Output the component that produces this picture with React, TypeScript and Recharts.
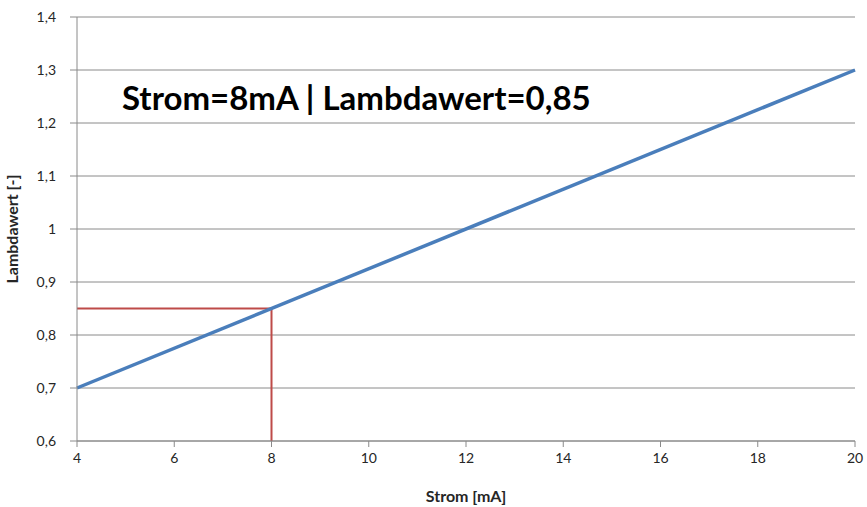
import { LineChart, Line, XAxis, YAxis, CartesianGrid } from 'recharts';

const stromTicks = [4, 6, 8, 10, 12, 14, 16, 18, 20];
const lambdaTicks = [0.6, 0.7, 0.8, 0.9, 1, 1.1, 1.2, 1.3, 1.4];

// Kennlinie: Strom [mA] -> Lambdawert
const kennlinie = [
  { strom: 4, lambda: 0.7 },
  { strom: 20, lambda: 1.3 },
];

// Ablesehilfe bei 8 mA
const ablesung = [
  { strom: 4, lambda: 0.85 },
  { strom: 8, lambda: 0.85 },
  { strom: 8, lambda: 0.6 },
];

const annotation = 'Strom=8mA | Lambdawert=0,85';

const fmt = (v: number) => String(v).replace('.', ',');

const tickStyle = { fill: '#262626', fontSize: 14, fontFamily: 'Lato, sans-serif' };
const labelStyle = { fill: '#262626', fontSize: 16, fontWeight: 700, fontFamily: 'Lato, sans-serif' };

export default function App() {
  return (
    <div style={{ position: 'absolute', left: 0, top: 0, width: 867, height: 507, background: '#fff' }}>
      <LineChart width={867} height={507} margin={{ top: 17, right: 12, bottom: 0, left: 0 }}>
        <CartesianGrid vertical={false} stroke="#8a8a8a" strokeWidth={1} />
        <XAxis
          type="number"
          dataKey="strom"
          domain={[4, 20]}
          ticks={stromTicks}
          height={66}
          stroke="#8a8a8a"
          tickSize={6}
          tickMargin={6}
          tick={tickStyle}
          label={{ value: 'Strom [mA]', position: 'insideBottom', offset: 5, style: labelStyle }}
        />
        <YAxis
          type="number"
          dataKey="lambda"
          domain={[0.6, 1.4]}
          ticks={lambdaTicks}
          width={77}
          stroke="#8a8a8a"
          tickSize={7}
          tickMargin={14}
          tick={tickStyle}
          tickFormatter={fmt}
          label={{
            value: 'Lambdawert [-]',
            angle: -90,
            position: 'insideLeft',
            offset: 12,
            style: { ...labelStyle, textAnchor: 'middle' },
          }}
        />
        <Line
          data={ablesung}
          dataKey="lambda"
          stroke="#be4b48"
          strokeWidth={2}
          dot={false}
          isAnimationActive={false}
        />
        <Line
          data={kennlinie}
          dataKey="lambda"
          stroke="#4a7ebb"
          strokeWidth={3.5}
          dot={false}
          isAnimationActive={false}
        />
      </LineChart>
      <div
        style={{
          position: 'absolute',
          left: 122,
          top: 77,
          fontFamily: 'Lato, sans-serif',
          fontWeight: 700,
          fontSize: 33,
          color: '#000',
          whiteSpace: 'nowrap',
        }}
      >
        {annotation}
      </div>
    </div>
  );
}
